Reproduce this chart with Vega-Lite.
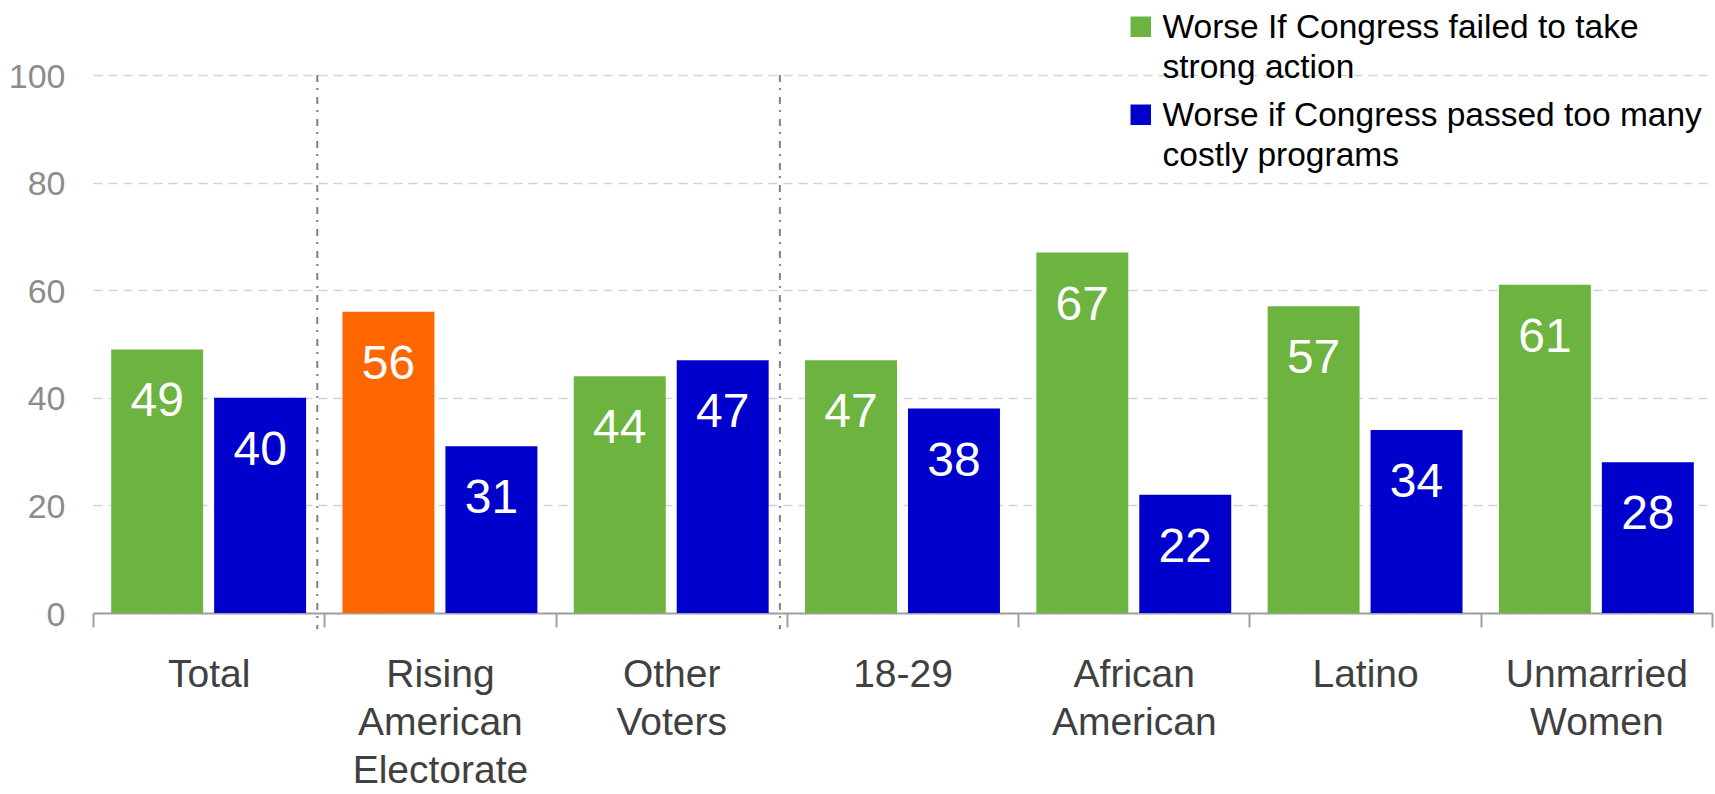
{
  "$schema": "https://vega.github.io/schema/vega-lite/v6.json",
  "width": 1619,
  "height": 538,
  "autosize": "none",
  "padding": {"left": 93, "top": 75, "right": 3, "bottom": 181},
  "background": "white",
  "config": {"view": {"stroke": null}, "font": "Liberation Sans"},
  "datasets": {
    "bars": [
      {"group": "Total", "series": "Worse If Congress failed to take strong action", "color_key": "Worse If Congress failed to take strong action", "value": 49},
      {"group": "Total", "series": "Worse if Congress passed too many costly programs", "color_key": "Worse if Congress passed too many costly programs", "value": 40},
      {"group": "Rising American Electorate", "series": "Worse If Congress failed to take strong action", "color_key": "Rising American Electorate highlight", "value": 56},
      {"group": "Rising American Electorate", "series": "Worse if Congress passed too many costly programs", "color_key": "Worse if Congress passed too many costly programs", "value": 31},
      {"group": "Other Voters", "series": "Worse If Congress failed to take strong action", "color_key": "Worse If Congress failed to take strong action", "value": 44},
      {"group": "Other Voters", "series": "Worse if Congress passed too many costly programs", "color_key": "Worse if Congress passed too many costly programs", "value": 47},
      {"group": "18-29", "series": "Worse If Congress failed to take strong action", "color_key": "Worse If Congress failed to take strong action", "value": 47},
      {"group": "18-29", "series": "Worse if Congress passed too many costly programs", "color_key": "Worse if Congress passed too many costly programs", "value": 38},
      {"group": "African American", "series": "Worse If Congress failed to take strong action", "color_key": "Worse If Congress failed to take strong action", "value": 67},
      {"group": "African American", "series": "Worse if Congress passed too many costly programs", "color_key": "Worse if Congress passed too many costly programs", "value": 22},
      {"group": "Latino", "series": "Worse If Congress failed to take strong action", "color_key": "Worse If Congress failed to take strong action", "value": 57},
      {"group": "Latino", "series": "Worse if Congress passed too many costly programs", "color_key": "Worse if Congress passed too many costly programs", "value": 34},
      {"group": "Unmarried Women", "series": "Worse If Congress failed to take strong action", "color_key": "Worse If Congress failed to take strong action", "value": 61},
      {"group": "Unmarried Women", "series": "Worse if Congress passed too many costly programs", "color_key": "Worse if Congress passed too many costly programs", "value": 28}
    ],
    "dividers": [
      {"group": "Rising American Electorate"},
      {"group": "18-29"}
    ]
  },
  "layer": [
    {
      "data": {"name": "bars"},
      "mark": {"type": "bar", "opacity": 1},
      "encoding": {
        "x": {
          "field": "group", "type": "nominal",
          "scale": {"domain": ["Total", "Rising American Electorate", "Other Voters", "18-29", "African American", "Latino", "Unmarried Women"], "paddingInner": 0, "paddingOuter": 0},
          "axis": {
            "title": null, "labelAngle": 0, "labelExpr": "split(datum.label, ' ')",
            "labelFont": "Liberation Sans", "labelFontSize": 39, "labelColor": "#404040", "labelLineHeight": 48, "labelLimit": 400,
            "labelPadding": 28, "tickSize": 14, "tickColor": "#a0a0a0", "tickWidth": 2,
            "domainColor": "#a0a0a0", "domainWidth": 2, "tickBand": "extent", "grid": false
          }
        },
        "xOffset": {
          "field": "series", "type": "nominal",
          "scale": {"domain": ["Worse If Congress failed to take strong action", "Worse if Congress passed too many costly programs"], "paddingInner": 0.1068, "paddingOuter": 0.1767}
        },
        "y": {
          "field": "value", "type": "quantitative",
          "scale": {"domain": [0, 100]},
          "axis": {
            "title": null, "values": [0, 20, 40, 60, 80, 100],
            "labelFont": "Liberation Sans", "labelFontSize": 34, "labelColor": "#8c8c8c", "labelPadding": 28, "labelOffset": 2,
            "ticks": false, "domain": false, "grid": true, "gridColor": "#d4d4d4", "gridDash": [9, 6], "gridWidth": 1.5
          }
        },
        "color": {
          "field": "color_key", "type": "nominal",
          "scale": {
            "domain": ["Worse If Congress failed to take strong action", "Worse if Congress passed too many costly programs", "Rising American Electorate highlight"],
            "range": ["#6db33f", "#0000cc", "#ff6600"]
          },
          "legend": {
            "values": ["Worse If Congress failed to take strong action", "Worse if Congress passed too many costly programs"],
            "orient": "none", "legendX": 1031, "legendY": -65, "title": null, "padding": 0,
            "symbolType": "square", "symbolSize": 420, "symbolStrokeWidth": 0, "symbolOpacity": 1,
            "labelFont": "Liberation Sans", "labelFontSize": 33.5, "labelColor": "#000000", "labelOffset": 5, "labelLimit": 800,
            "labelBaseline": "alphabetic", "rowPadding": 13,
            "labelExpr": "datum.label == 'Worse If Congress failed to take strong action' ? ['Worse If Congress failed to take', 'strong action'] : ['Worse if Congress passed too many', 'costly programs']",
            "encode": {"labels": {"update": {"lineHeight": {"value": 40}, "dy": {"value": 11}}}}
          }
        }
      }
    },
    {
      "data": {"name": "bars"},
      "mark": {"type": "text", "baseline": "middle", "align": "center", "dy": 53, "fontSize": 48, "font": "Liberation Sans", "color": "#ffffff"},
      "encoding": {
        "x": {"field": "group", "type": "nominal"},
        "xOffset": {"field": "series", "type": "nominal"},
        "y": {"field": "value", "type": "quantitative"},
        "text": {"field": "value", "type": "quantitative"}
      }
    },
    {
      "data": {"name": "dividers"},
      "mark": {"type": "rule", "color": "#808080", "strokeWidth": 2, "strokeDash": [7, 6, 2, 7], "xOffset": -7},
      "encoding": {
        "x": {"field": "group", "type": "nominal", "bandPosition": 0},
        "y": {"datum": 100},
        "y2": {"datum": -3}
      }
    }
  ]
}
